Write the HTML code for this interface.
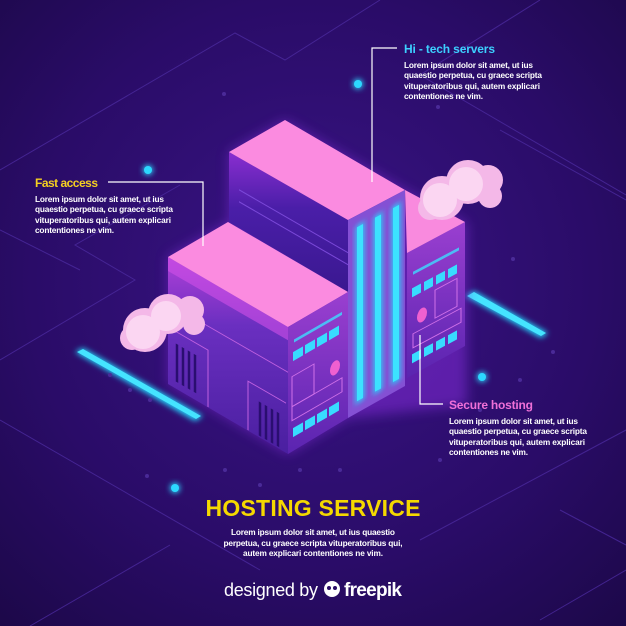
<!DOCTYPE html>
<html><head><meta charset="utf-8"><style>
html,body{margin:0;padding:0;background:#24095a;}
svg{display:block}
text{font-family:"Liberation Sans",sans-serif;}
</style></head><body>
<svg width="626" height="626" viewBox="0 0 626 626" xmlns="http://www.w3.org/2000/svg">
<defs>
<radialGradient id="bg" cx="0.5" cy="0.45" r="0.75">
<stop offset="0" stop-color="#3a1487"/><stop offset="0.6" stop-color="#2a0c68"/><stop offset="1" stop-color="#1c0848"/>
</radialGradient>
<filter id="glow" x="-50%" y="-50%" width="200%" height="200%"><feGaussianBlur stdDeviation="3"/></filter>
<filter id="glow2" x="-50%" y="-50%" width="200%" height="200%"><feGaussianBlur stdDeviation="6"/></filter>
<linearGradient id="lf" x1="0" y1="0" x2="0" y2="1"><stop offset="0" stop-color="#b040d8"/><stop offset="0.35" stop-color="#6a2fc0"/><stop offset="1" stop-color="#4a1fa0"/></linearGradient>
<linearGradient id="rf" x1="0" y1="0" x2="0" y2="1"><stop offset="0" stop-color="#9a3fd0"/><stop offset="1" stop-color="#5a24b0"/></linearGradient>
<linearGradient id="tl" x1="0" y1="0" x2="0" y2="1"><stop offset="0" stop-color="#8a2ed0"/><stop offset="0.4" stop-color="#4a1ea8"/><stop offset="1" stop-color="#3a1890"/></linearGradient>
</defs>
<rect width="626" height="626" fill="url(#bg)"/>
<g stroke="#4b2a9e" stroke-width="1" fill="none" opacity="0.8">
<path d="M0,170 L235,33 L285,60 L380,0"/>
<path d="M0,360 L135,280 L75,245 L180,185"/>
<path d="M540,0 L420,75 L626,195"/>
<path d="M500,130 L626,200"/>
<path d="M0,420 L260,570"/>
<path d="M30,626 L170,545"/>
<path d="M420,540 L626,430"/>
<path d="M560,510 L626,545"/>
<path d="M540,620 L626,570"/>
<path d="M0,230 L80,270"/>
</g>
<!-- glowing strips -->
<polygon points="75,352 83,348 203,416 195,421" fill="#22d8ff" filter="url(#glow)"/>
<polygon points="77,352 83,349 201,416 196,419" fill="#45e4ff"/>
<polygon points="465,296 474,291 548,333 541,338" fill="#22d8ff" filter="url(#glow)"/>
<polygon points="467,296 474,292 546,333 541,336" fill="#45e4ff"/>
<!-- floor dots -->
<g fill="#4a2a98">
<circle cx="110" cy="375" r="2"/><circle cx="130" cy="390" r="2"/><circle cx="150" cy="400" r="2"/><circle cx="225" cy="470" r="2"/><circle cx="260" cy="485" r="2"/><circle cx="300" cy="470" r="2"/><circle cx="340" cy="470" r="2"/><circle cx="480" cy="410" r="2"/><circle cx="520" cy="380" r="2"/><circle cx="553" cy="352" r="2"/><circle cx="224" cy="94" r="2"/><circle cx="438" cy="107" r="2"/><circle cx="513" cy="259" r="2"/><circle cx="147" cy="476" r="2"/><circle cx="440" cy="460" r="2"/>
</g>
<!-- building glow -->
<polygon points="168,257 229,222 229,152 285,120 405,190 467,223 467,405 348,418 288,454 168,384" fill="#8a2ee0" opacity="0.5" filter="url(#glow2)"/>
<!-- tower left face -->
<polygon points="229,152 348,220 348,292 229,222" fill="url(#tl)"/>
<g transform="translate(229,152) skewY(30)" stroke="#7a48d8" stroke-width="1.2">
<line x1="10" y1="32" x2="119" y2="32"/><line x1="10" y1="44" x2="119" y2="44"/>
</g>
<!-- tower top -->
<polygon points="229,152 285,120 405,190 348,220" fill="#fb8be0"/>
<!-- right block face -->
<polygon points="407,253 465,222 465,346 407,378" fill="url(#rf)"/>
<polygon points="405,190 465,222 407,253" fill="#f98ade"/>
<g transform="translate(407,253) skewY(-28)">
<rect x="6" y="22" width="46" height="3" fill="#3ddcff" opacity="0.8"/>
<rect x="5" y="38" width="9" height="9" fill="#38dcff"/><rect x="17" y="38" width="9" height="9" fill="#38dcff"/><rect x="29" y="38" width="9" height="9" fill="#38dcff"/><rect x="41" y="38" width="9" height="9" fill="#38dcff"/>
<ellipse cx="15" cy="70" rx="5" ry="7" fill="#f060d0"/>
<rect x="28" y="52" width="22" height="28" fill="none" stroke="#d070e8" stroke-width="1"/>
<rect x="6" y="84" width="48" height="14" fill="none" stroke="#d070e8" stroke-width="1"/>
<rect x="5" y="104" width="9" height="9" fill="#38dcff"/><rect x="17" y="104" width="9" height="9" fill="#38dcff"/><rect x="29" y="104" width="9" height="9" fill="#38dcff"/><rect x="41" y="104" width="9" height="9" fill="#38dcff"/>
</g>
<!-- tower column -->
<polygon points="348,220 405,190 405,386 348,418" fill="#8450d4"/>
<g transform="translate(348,220) skewY(-28)">
<rect x="8" y="10" width="8" height="178" fill="#22d8ff" filter="url(#glow)"/>
<rect x="26" y="10" width="8" height="178" fill="#22d8ff" filter="url(#glow)"/>
<rect x="44" y="10" width="8" height="178" fill="#22d8ff" filter="url(#glow)"/>
<rect x="9" y="12" width="6" height="174" fill="#3ce2ff"/>
<rect x="27" y="12" width="6" height="174" fill="#3ce2ff"/>
<rect x="45" y="12" width="6" height="174" fill="#3ce2ff"/>
</g>
<!-- lower block left face -->
<polygon points="168,257 288,327 288,454 168,384" fill="url(#lf)"/>
<g transform="translate(168,257) skewY(30)">
<rect x="0" y="0" width="120" height="14" fill="#d050e8" opacity="0.6"/>
<g stroke="#2a0e70" stroke-width="2.5">
<line x1="9" y1="82" x2="9" y2="120"/><line x1="15" y1="82" x2="15" y2="120"/><line x1="21" y1="82" x2="21" y2="120"/><line x1="27" y1="82" x2="27" y2="120"/>
<line x1="92" y1="92" x2="92" y2="126"/><line x1="98" y1="92" x2="98" y2="126"/><line x1="104" y1="92" x2="104" y2="126"/><line x1="110" y1="92" x2="110" y2="126"/>
</g>
<g stroke="#c060e0" stroke-width="1" fill="none">
<path d="M2,70 L40,70 L40,127"/><path d="M80,127 L80,78 L118,78"/><line x1="30" y1="46" x2="120" y2="46"/>
</g>
</g>
<!-- lower block top -->
<polygon points="168,257 228,222 348,292 288,327" fill="#fb8be0"/>
<!-- lower block front face -->
<polygon points="288,327 348,292 348,418 288,454" fill="url(#rf)"/>
<g transform="translate(288,327) skewY(-30)">
<rect x="6" y="16" width="48" height="3" fill="#3ddcff" opacity="0.8"/>
<rect x="5" y="28" width="10" height="9" fill="#38dcff"/><rect x="17" y="28" width="10" height="9" fill="#38dcff"/><rect x="29" y="28" width="10" height="9" fill="#38dcff"/><rect x="41" y="28" width="10" height="9" fill="#38dcff"/>
<ellipse cx="47" cy="68" rx="5" ry="7" fill="#f060d0"/>
<rect x="4" y="52" width="22" height="30" fill="none" stroke="#d070e8" stroke-width="1"/>
<rect x="4" y="82" width="50" height="14" fill="none" stroke="#d070e8" stroke-width="1"/>
<rect x="5" y="104" width="10" height="9" fill="#38dcff"/><rect x="17" y="104" width="10" height="9" fill="#38dcff"/><rect x="29" y="104" width="10" height="9" fill="#38dcff"/><rect x="41" y="104" width="10" height="9" fill="#38dcff"/>
</g>
<!-- clouds -->
<g fill="#f4b8e8">
<circle cx="442" cy="198" r="22"/><circle cx="468" cy="182" r="22"/><circle cx="488" cy="180" r="15"/><circle cx="490" cy="196" r="12"/><circle cx="430" cy="208" r="12"/>
<circle cx="145" cy="330" r="22"/><circle cx="168" cy="314" r="20"/><circle cx="190" cy="310" r="14"/><circle cx="194" cy="324" r="11"/><circle cx="132" cy="338" r="12"/>
</g>
<g fill="#fbd6f2">
<circle cx="440" cy="200" r="17"/><circle cx="466" cy="184" r="17"/><circle cx="143" cy="332" r="17"/><circle cx="166" cy="316" r="15"/>
</g>
<!-- connectors -->
<g stroke="#fff" stroke-width="1.2" fill="none">
<path d="M397,48 L372,48 L372,182"/>
<path d="M108,182 L203,182 L203,246"/>
<path d="M420,335 L420,404 L443,404"/>
</g>
<!-- dots -->
<g fill="#2cd8ff">
<circle cx="358" cy="84" r="5" filter="url(#glow)"/><circle cx="358" cy="84" r="4"/>
<circle cx="148" cy="170" r="5" filter="url(#glow)"/><circle cx="148" cy="170" r="4"/>
<circle cx="482" cy="377" r="5" filter="url(#glow)"/><circle cx="482" cy="377" r="4"/>
<circle cx="175" cy="488" r="5" filter="url(#glow)"/><circle cx="175" cy="488" r="4"/>
</g>
<!-- texts -->
<text x="404" y="53" font-size="12" font-weight="bold" fill="#3cd0ff" textLength="91">Hi - tech servers</text>
<g font-size="8.3" fill="#fff" font-weight="bold">
<text x="404" y="68" textLength="129">Lorem ipsum dolor sit amet, ut ius</text>
<text x="404" y="78" textLength="138">quaestio perpetua, cu graece scripta</text>
<text x="404" y="89" textLength="136">vituperatoribus qui, autem explicari</text>
<text x="404" y="99" textLength="79">contentiones ne vim.</text>
<text x="35" y="202" textLength="129">Lorem ipsum dolor sit amet, ut ius</text>
<text x="35" y="212" textLength="138">quaestio perpetua, cu graece scripta</text>
<text x="35" y="223" textLength="136">vituperatoribus qui, autem explicari</text>
<text x="35" y="233" textLength="79">contentiones ne vim.</text>
<text x="449" y="424" textLength="129">Lorem ipsum dolor sit amet, ut ius</text>
<text x="449" y="434" textLength="138">quaestio perpetua, cu graece scripta</text>
<text x="449" y="445" textLength="136">vituperatoribus qui, autem explicari</text>
<text x="449" y="455" textLength="79">contentiones ne vim.</text>
</g>
<text x="35" y="187" font-size="12" font-weight="bold" fill="#f5d020" textLength="63">Fast access</text>
<text x="449" y="409" font-size="12" font-weight="bold" fill="#f070d8" textLength="84">Secure hosting</text>
<text x="313" y="516" font-size="23" font-weight="bold" fill="#f5d800" text-anchor="middle" textLength="215">HOSTING SERVICE</text>
<g font-size="8.3" fill="#fff" font-weight="bold" text-anchor="middle">
<text x="313" y="535" textLength="164">Lorem ipsum dolor sit amet, ut ius quaestio</text>
<text x="313" y="546" textLength="179">perpetua, cu graece scripta vituperatoribus qui,</text>
<text x="313" y="556" textLength="140">autem explicari contentiones ne vim.</text>
</g>
<text x="224" y="596" font-size="18" fill="#fff" textLength="94">designed by</text>
<circle cx="332" cy="589" r="8" fill="#fff"/><circle cx="329" cy="588" r="2" fill="#2a0c68"/><circle cx="335" cy="588" r="2" fill="#2a0c68"/>
<text x="344" y="596" font-size="19" font-weight="bold" fill="#fff" textLength="58">freepik</text>
</svg>
</body></html>
